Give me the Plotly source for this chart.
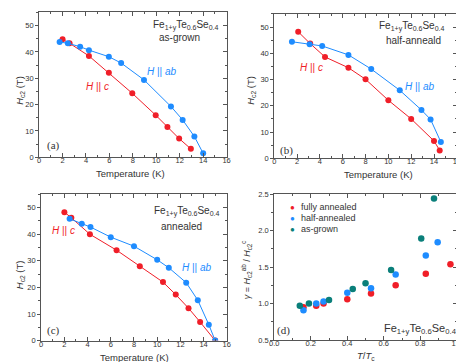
import plotly.graph_objects as go

# ---------------- data ----------------
a_c_T = [2.0, 2.6, 4.25, 5.95, 7.95, 9.95, 10.95, 11.95, 12.95]
a_c_H = [44.8, 43.3, 38.5, 32.1, 24.3, 16.0, 11.5, 7.1, 3.2]
a_ab_T = [1.75, 2.45, 3.5, 4.25, 5.95, 7.0, 8.95, 11.25, 12.25, 13.25, 14.0]
a_ab_H = [43.8, 43.3, 42.0, 40.7, 38.2, 35.8, 29.4, 19.3, 14.2, 7.9, 1.5]

b_c_T = [2.1, 3.15, 4.45, 6.5, 8.0, 10.0, 12.0, 14.0, 14.5]
b_c_H = [48.2, 43.7, 38.6, 34.5, 30.1, 22.1, 15.0, 6.6, 3.0]
b_ab_T = [1.55, 3.1, 4.2, 6.5, 8.5, 11.0, 12.9, 13.7, 14.6]
b_ab_H = [44.4, 43.5, 42.8, 39.4, 34.0, 25.9, 18.4, 14.8, 6.2]

c_c_T = [2.0, 2.6, 4.2, 6.5, 8.5, 10.5, 11.6, 12.7, 13.7, 15.0]
c_c_H = [48.3, 46.2, 40.0, 34.0, 28.0, 22.0, 17.3, 12.2, 7.0, 0.0]
c_ab_T = [2.45, 3.5, 4.25, 6.0, 8.0, 10.0, 11.0, 12.5, 13.5, 14.45, 15.0]
c_ab_H = [45.8, 43.9, 42.7, 38.9, 35.5, 30.4, 27.4, 21.8, 15.2, 6.0, 0.0]

full_x = [0.16, 0.23, 0.27, 0.40, 0.53, 0.665, 0.83, 0.965]
full_y = [0.95, 0.97, 1.00, 1.06, 1.14, 1.25, 1.41, 1.54]
half_x = [0.16, 0.23, 0.27, 0.40, 0.53, 0.665, 0.83, 0.895]
half_y = [0.91, 1.00, 1.03, 1.15, 1.21, 1.40, 1.66, 1.84]
grown_x = [0.14, 0.19, 0.30, 0.43, 0.50, 0.64, 0.805, 0.875]
grown_y = [0.97, 1.00, 1.05, 1.20, 1.28, 1.46, 1.89, 2.44]

legend_names = ["fully annealed", "half-annealed", "as-grown"]
formula = "Fe<sub>1+y</sub>Te<sub>0.6</sub>Se<sub>0.4</sub>"

RED = "#f01e28"
BLUE = "#1e8cff"
TEAL = "#0a7f7a"
AX = "#555555"
TXT = "#333333"
FONT = "Liberation Sans"
SERIF = "Liberation Serif"

W, H = 464, 362

def px_x(p):
    return p / W

def px_y(p):
    return 1 - p / H

fig = go.Figure()

def line_trace(x, y, color, xa, ya):
    fig.add_trace(go.Scatter(x=x, y=y, mode="lines+markers", xaxis=xa, yaxis=ya,
                             line=dict(color=color, width=1),
                             marker=dict(color=color, size=6),
                             showlegend=False))

line_trace(a_c_T, a_c_H, RED, "x", "y")
line_trace(a_ab_T, a_ab_H, BLUE, "x", "y")
line_trace(b_c_T, b_c_H, RED, "x2", "y2")
line_trace(b_ab_T, b_ab_H, BLUE, "x2", "y2")
line_trace(c_c_T, c_c_H, RED, "x3", "y3")
line_trace(c_ab_T, c_ab_H, BLUE, "x3", "y3")

for xs, ys, col, nm in [(full_x, full_y, RED, legend_names[0]),
                        (half_x, half_y, BLUE, legend_names[1]),
                        (grown_x, grown_y, TEAL, legend_names[2])]:
    fig.add_trace(go.Scatter(x=xs, y=ys, mode="markers", xaxis="x4", yaxis="y4",
                             marker=dict(color=col, size=6.5), name=nm, showlegend=False))

# domains (pixel based)
doms = {
    1: ((26.7, 218.3), (0.5, 149)),
    2: ((267, 453.6), (2, 150)),
    3: ((28.8, 218.5), (187, 337)),
    4: ((267, 453.6), (186.7, 336.5)),
}

tickfont = dict(family=FONT, size=7.5, color=TXT)

layout = dict(width=W, height=H, margin=dict(l=0, r=0, t=0, b=0),
              paper_bgcolor="white", plot_bgcolor="white", showlegend=False,
              font=dict(family=FONT, color=TXT))

for i in range(1, 5):
    (x0, x1), (y0, y1) = doms[i]
    xd = [px_x(x0), px_x(x1)]
    yd = [px_y(y1), px_y(y0)]
    sfx = "" if i == 1 else str(i)
    if i < 4:
        xr, xdt, xminor = [0, 16], 2, 1
        yr, ydt, yminor = [0, 55], 10, 5
    else:
        xr, xdt, xminor = [0, 1.0], 0.2, 0.1
        yr, ydt, yminor = [0.5, 2.5], 0.5, 0.25
    layout["xaxis" + sfx] = dict(
        domain=xd, range=xr, dtick=xdt, tick0=0, anchor="y" + sfx,
        showgrid=False, zeroline=False, showline=True, linecolor=AX, linewidth=1,
        mirror="ticks", ticks="inside", ticklen=4, tickcolor=AX,
        minor=dict(dtick=xminor, ticks="inside", ticklen=2, tickcolor=AX),
        tickfont=tickfont, tickformat=".1f" if i == 4 else "d", ticklabelstandoff=-4)
    layout["yaxis" + sfx] = dict(
        domain=yd, range=yr, dtick=ydt, tick0=0, anchor="x" + sfx,
        showgrid=False, zeroline=False, showline=True, linecolor=AX, linewidth=1,
        mirror=True, ticks="outside", ticklen=3, tickcolor=AX,
        minor=dict(dtick=yminor, ticks="outside", ticklen=2, tickcolor=AX),
        tickfont=tickfont, tickformat=".1f" if i == 4 else "d")
    layout["yaxis" + str(i + 4)] = dict(
        overlaying="y" + sfx, side="right", anchor="x" + sfx, range=yr, dtick=ydt, tick0=0,
        showgrid=False, zeroline=False, showline=False, showticklabels=False,
        ticks="inside", ticklen=4, tickcolor=AX,
        minor=dict(dtick=yminor, ticks="inside", ticklen=2, tickcolor=AX))

fig.update_layout(**layout)
for i in range(1, 5):
    sfx = "" if i == 1 else str(i)
    fig.add_trace(go.Scatter(x=[None], y=[None], xaxis="x" + sfx, yaxis="y" + str(i + 4),
                             showlegend=False, hoverinfo="skip"))

ann = []

def A(x, y, text, size=9.5, color=TXT, family=FONT, xanchor="center", angle=0):
    ann.append(dict(x=px_x(x), y=px_y(y), xref="paper", yref="paper", text=text,
                    showarrow=False, font=dict(family=family, size=size, color=color),
                    xanchor=xanchor, yanchor="middle", textangle=angle))

HT = "<i>H</i><sub>c2</sub> (T)"
# axis titles
A(120, 166, "Temperature (K)", 9.5)
A(374, 166.5, "Temperature (K)", 9.5)
A(124, 354, "Temperature (K)", 9.5)
A(361, 353, "<i>T</i>/<i>T</i><sub>c</sub>", 9.5)
A(7, 80, HT, 9.5, angle=-90)
A(243, 80, HT, 9.5, angle=-90)
A(7, 269, HT, 9.5, angle=-90)
A(239, 264, "<i>γ</i> = <i>H</i><sub>c2</sub><sup>ab</sup> / <i>H</i><sub>c2</sub><sup>c</sup>", 9, angle=-90)

# panel a
A(177, 14, formula, 10)
A(170, 26, "as-grown", 10)
A(152, 61, "<i>H</i> || <i>ab</i>", 10, BLUE)
A(86, 76, "<i>H</i> || <i>c</i>", 10, RED)
A(41, 137, "(a)", 11, TXT, SERIF)
# panel b
A(408, 15, formula, 10)
A(409, 29, "half-anneald", 10)
A(305, 57, "<i>H</i> || <i>c</i>", 10, RED)
A(416, 76, "<i>H</i> || <i>ab</i>", 10, BLUE)
A(280, 142, "(b)", 11, TXT, SERIF)
# panel c
A(178, 205, formula, 10)
A(172, 220, "annealed", 10)
A(52, 224, "<i>H</i> || <i>c</i>", 10, RED)
A(188, 262, "<i>H</i> || <i>ab</i>", 10, BLUE)
A(41, 327, "(c)", 11, TXT, SERIF)
# panel d
A(276, 327, "(d)", 11, TXT, SERIF)
A(416, 325, formula, 11)
for k, (nm, col) in enumerate(zip(legend_names, [RED, BLUE, TEAL])):
    yy = [200, 211.5, 222.7][k]
    A(285.5, yy, "●", 8, col)
    A(292, yy, nm, 9, TXT, FONT, "left")

fig.update_layout(annotations=ann)
fig.write_html("out.html")
